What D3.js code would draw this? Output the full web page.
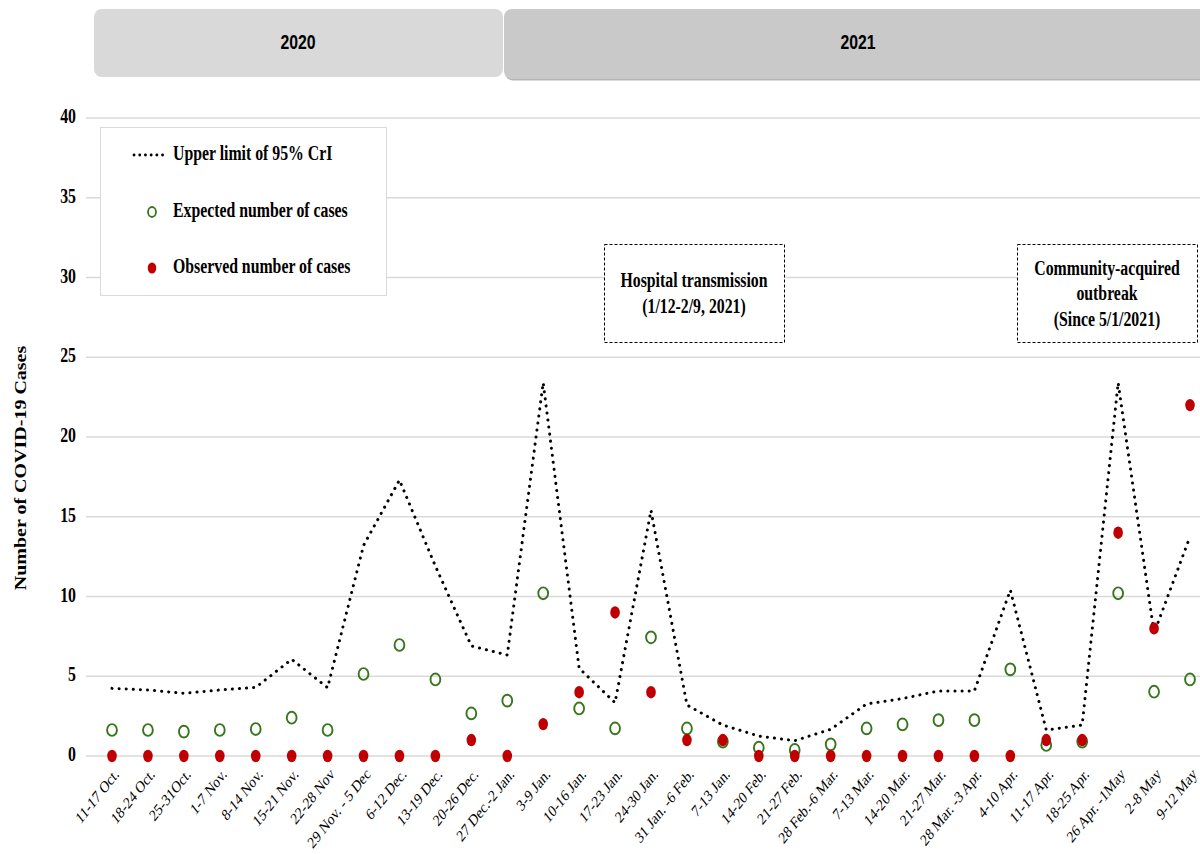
<!DOCTYPE html>
<html>
<head>
<meta charset="utf-8">
<script src="https://cdn.jsdelivr.net/npm/d3@7"></script>
<style>
  body { margin: 0; background: #fff; }
  svg { display: block; }
</style>
</head>
<body>
<div id="chart"></div>
<script>
const categories = ["11-17 Oct.","18-24 Oct.","25-31Oct.","1-7 Nov.","8-14 Nov.","15-21 Nov.","22-28 Nov","29 Nov. - 5 Dec","6-12 Dec.","13-19 Dec.","20-26 Dec.","27 Dec.-2 Jan.","3-9 Jan.","10-16 Jan.","17-23 Jan.","24-30 Jan.","31 Jan. -6 Feb.","7-13 Jan.","14-20 Feb.","21-27 Feb.","28 Feb.-6 Mar.","7-13 Mar.","14-20 Mar.","21-27 Mar.","28 Mar. -3 Apr.","4-10 Apr.","11-17 Apr.","18-25 Apr.","26 Apr. -1May","2-8 May","9-12 May"];
const upperLimit = [4.24,4.14,3.93,4.14,4.3,6.06,4.28,13.2,17.3,11.9,6.9,6.33,23.4,5.5,3.34,15.4,3.2,1.94,1.25,0.96,1.67,3.26,3.6,4.08,4.08,10.4,1.63,1.94,23.4,7.7,13.75];
const expected = [1.63,1.63,1.53,1.63,1.69,2.4,1.63,5.14,6.96,4.8,2.67,3.47,10.2,2.98,1.73,7.44,1.73,0.9,0.52,0.38,0.73,1.73,1.98,2.25,2.25,5.43,0.69,0.9,10.2,4.03,4.8];
const observed = [0,0,0,0,0,0,0,0,0,0,1,0,2,4,9,4,1,1,0,0,0,0,0,0,0,0,1,1,14,8,22];
const yTicks = [0,5,10,15,20,25,30,35,40];
const years = ["2020","2021"];
const legendLabels = ["Upper limit of 95% CrI","Expected number of cases","Observed number of cases"];
const annotations = [
  ["Hospital transmission","(1/12-2/9, 2021)"],
  ["Community-acquired","outbreak","(Since 5/1/2021)"]
];

const W = 1200, H = 854;
const SX = 0.79; // horizontal squeeze of the original figure
const svg = d3.select("#chart").append("svg").attr("width", W).attr("height", H);

const serif = "'Liberation Serif','Times New Roman',serif";
const x = d3.scalePoint().domain(categories).range([112, 1190]);
const y = d3.scaleLinear().domain([0, 40]).range([756, 118]);

function squeezedText(g, tx, ty, str, size, weight, anchor, family) {
  return g.append("text")
    .attr("transform", `translate(${tx},${ty}) scale(${SX},1)`)
    .attr("text-anchor", anchor || "start").attr("dominant-baseline", "middle")
    .style("font-family", family || serif).style("font-weight", weight || "bold")
    .style("font-size", size + "px").attr("fill", "#000").text(str);
}

// year banners
const banners = [
  {x0: 94, x1: 503, y0: 9, y1: 77, fill: "#d9d9d9", tx: 298},
  {x0: 504, x1: 1212, y0: 9, y1: 79, fill: "#c9c9c9", tx: 858}
];
svg.append("rect").attr("x", 505).attr("y", 11).attr("width", 710).attr("height", 69.5).attr("rx", 8).attr("fill", "#b5b5b5");
banners.forEach((b, i) => {
  svg.append("rect").attr("x", b.x0).attr("y", b.y0).attr("width", b.x1 - b.x0).attr("height", b.y1 - b.y0)
    .attr("rx", 8).attr("fill", b.fill);
  squeezedText(svg, b.tx, 44, years[i], 20, "bold", "middle", "'Liberation Sans',Arial,sans-serif");
});

// gridlines
svg.append("g").selectAll("line").data(yTicks).join("line")
  .attr("x1", 86).attr("x2", 1200).attr("y1", d => y(d)).attr("y2", d => y(d))
  .attr("stroke", "#d9d9d9").attr("stroke-width", 1.5);

// y axis labels
const yAxis = d3.axisLeft(y).tickValues(yTicks).tickSize(0).tickPadding(0);
const gy = svg.append("g").attr("transform", "translate(76,0)").call(yAxis);
gy.select(".domain").remove();
gy.selectAll("text").attr("x", null).attr("dy", null).attr("dominant-baseline", "middle")
  .attr("transform", `scale(${SX},1)`)
  .style("font-family", serif).style("font-weight", "bold").style("font-size", "20px").attr("fill", "#000");

// y title
svg.append("text").attr("transform", `translate(22,468) scale(${SX},1) rotate(-90)`)
  .attr("text-anchor", "middle").attr("dominant-baseline", "middle")
  .style("font-family", serif).style("font-weight", "bold").style("font-size", "20px")
  .text("Number of COVID-19 Cases");

// x axis labels
const xAxis = d3.axisBottom(x).tickSize(0).tickPadding(0);
const gx = svg.append("g").attr("transform", "translate(0,770)").call(xAxis);
gx.select(".domain").remove();
gx.selectAll("text")
  .attr("y", null).attr("dy", "0.35em")
  .style("font-family", serif).style("font-size", "16.5px").attr("fill", "#000")
  .attr("text-anchor", "end")
  .attr("transform", `translate(4,1) scale(${SX},1) rotate(-45)`);

// upper limit line
const line = d3.line().x((d, i) => x(categories[i])).y(d => y(d));
svg.append("path").datum(upperLimit).attr("d", line)
  .attr("fill", "none").attr("stroke", "#000").attr("stroke-width", 3)
  .attr("stroke-linecap", "round").attr("stroke-dasharray", "0.1,7");

// expected
svg.append("g").selectAll("ellipse").data(expected).join("ellipse")
  .attr("cx", (d, i) => x(categories[i])).attr("cy", d => y(d)).attr("rx", 4.9).attr("ry", 5.9)
  .attr("fill", "none").attr("stroke", "#38761d").attr("stroke-width", 1.9);

// observed
svg.append("g").selectAll("ellipse").data(observed).join("ellipse")
  .attr("cx", (d, i) => x(categories[i])).attr("cy", d => y(d)).attr("rx", 4.8).attr("ry", 6.2)
  .attr("fill", "#c00000");

// legend
const lg = svg.append("g");
lg.append("rect").attr("x", 100.5).attr("y", 127.5).attr("width", 286).attr("height", 168)
  .attr("fill", "#fff").attr("stroke", "#d9d9d9").attr("stroke-width", 1);
const ly = [155, 212, 268];
lg.append("line").attr("x1", 134).attr("x2", 168).attr("y1", ly[0]).attr("y2", ly[0])
  .attr("stroke", "#000").attr("stroke-width", 2.8).attr("stroke-linecap", "round").attr("stroke-dasharray", "0.1,5.6");
lg.append("ellipse").attr("cx", 152).attr("cy", ly[1]).attr("rx", 4).attr("ry", 5).attr("fill", "none").attr("stroke", "#38761d").attr("stroke-width", 1.8);
lg.append("ellipse").attr("cx", 152).attr("cy", ly[2]).attr("rx", 4.3).attr("ry", 5.6).attr("fill", "#c00000");
legendLabels.forEach((t, i) => squeezedText(lg, 173, ly[i], t, 20, "bold", "start"));

// annotation boxes
const boxes = [{x0: 604, x1: 784, y0: 244, y1: 342, ty: [282, 308]}, {x0: 1017, x1: 1197, y0: 244, y1: 342, ty: [270, 295, 321]}];
boxes.forEach((b, k) => {
  svg.append("rect").attr("x", b.x0 + 0.5).attr("y", b.y0 + 0.5).attr("width", b.x1 - b.x0).attr("height", b.y1 - b.y0)
    .attr("fill", "#fff").attr("stroke", "#000").attr("stroke-width", 1).attr("stroke-dasharray", "3,2");
  annotations[k].forEach((t, j) => squeezedText(svg, (b.x0 + b.x1) / 2, b.ty[j], t, 20, "bold", "middle"));
});
</script>
</body>
</html>
